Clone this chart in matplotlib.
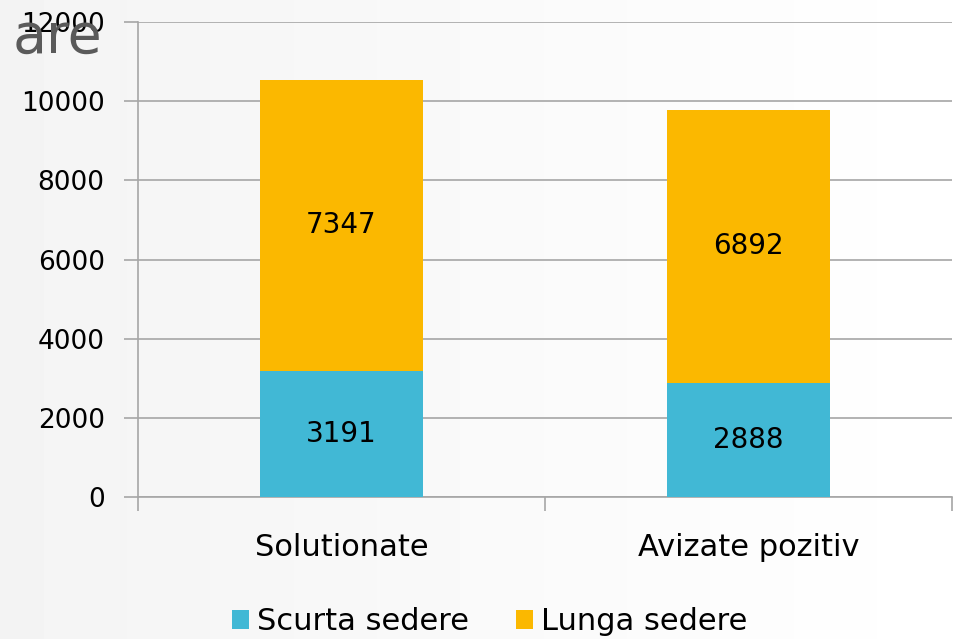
import matplotlib.pyplot as plt
import numpy as np

# data
categories = ["Solutionate", "Avizate pozitiv"]
scurta = [3191, 2888]
lunga = [7347, 6892]
series_names = ["Scurta sedere", "Lunga sedere"]
colors = ["#41B8D5", "#FBB800"]

plt.rcParams['font.family'] = ['DejaVu Sans']

fig = plt.figure(figsize=(9.61, 6.39), dpi=100)

# light gradient background (slightly grey on the left)
bg = fig.add_axes([0, 0, 1, 1], zorder=-10)
grad = np.linspace(0.955, 1.0, 961).reshape(1, -1)
bg.imshow(grad, cmap='gray', vmin=0, vmax=1, aspect='auto', extent=[0, 1, 0, 1])
bg.axis('off')

# cut-off title remnant
fig.text(102 / 961, 1 - 53 / 639, "are", fontsize=40, color="#5a5a5a",
         ha='right', va='baseline')

ax = fig.add_axes([138 / 961, 1 - 497 / 639, 814 / 961, 475 / 639])
ax.patch.set_alpha(0)

x = np.arange(len(categories))
b1 = ax.bar(x, scurta, width=0.4, color=colors[0], label=series_names[0], zorder=3)
b2 = ax.bar(x, lunga, width=0.4, bottom=scurta, color=colors[1], label=series_names[1], zorder=3)

for rect, v in zip(b1, scurta):
    ax.text(rect.get_x() + rect.get_width() / 2, rect.get_y() + v / 2, str(v),
            ha='center', va='center', fontsize=20, zorder=4)
for rect, v in zip(b2, lunga):
    ax.text(rect.get_x() + rect.get_width() / 2, rect.get_y() + v / 2, str(v),
            ha='center', va='center', fontsize=20, zorder=4)

ax.set_xlim(-0.5, 1.5)
ax.set_ylim(0, 12000)
ax.set_yticks(range(0, 12001, 2000))
ax.yaxis.grid(True, color='#a6a6a6', linewidth=1.2, zorder=0)
ax.tick_params(axis='y', length=10, width=1.2, color='#a6a6a6', labelsize=19, pad=14)

ax.set_xticks(x)
ax.set_xticklabels(categories, fontsize=22)
ax.set_xticks([-0.5, 0.5, 1.5], minor=True)
ax.tick_params(axis='x', which='major', length=0, pad=26)
ax.tick_params(axis='x', which='minor', length=10, width=1.2, color='#a6a6a6')

for s in ['top', 'right']:
    ax.spines[s].set_visible(False)
for s in ['left', 'bottom']:
    ax.spines[s].set_color('#a6a6a6')
    ax.spines[s].set_linewidth(1.2)

fig.legend(handles=[b1, b2], labels=series_names, loc='center',
           bbox_to_anchor=(490 / 961, 1 - 622 / 639), ncol=2, frameon=False,
           fontsize=22, handlelength=0.55, handleheight=0.55, handletextpad=0.26,
           columnspacing=1.55)

fig.savefig("out.png", dpi=100)
